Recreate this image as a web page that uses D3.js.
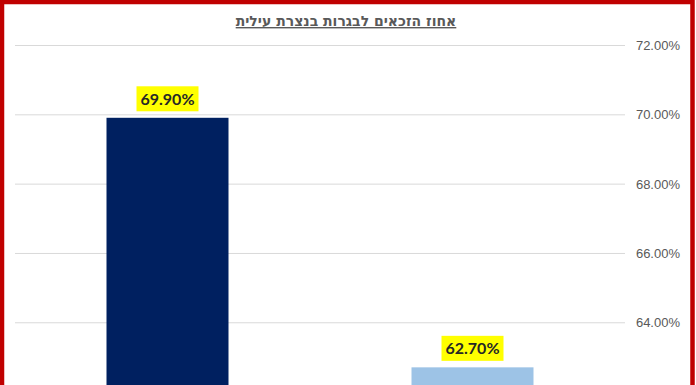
<!DOCTYPE html>
<html>
<head>
<meta charset="utf-8">
<script src="https://cdn.jsdelivr.net/npm/d3@7"></script>
<style>
  body { margin: 0; background: #fff; }
  svg { display: block; }
</style>
</head>
<body>
<svg width="696" height="385"></svg>
<script>
// chart data
var categories = ["2016", "2017"];
var values = [69.9, 62.7];
var barColors = ["#002060", "#9dc3e6"];
var yTicks = [64, 66, 68, 70, 72];
var title = "אחוז הזכאים לבגרות בנצרת עילית";

var svg = d3.select("svg");

xScale = d3.scaleBand()
  .domain(categories)
  .range([15, 625])
  .paddingInner(0.6)
  .paddingOuter(0.3);

yScale = d3.scaleLinear()
  .domain([62, 72])
  .range([391.6, 45]);

// gridlines + labels on the right
yAxis = d3.axisRight(yScale)
  .tickValues(yTicks)
  .tickSize(610)
  .tickFormat(function (d) { return d3.format(".2f")(d) + "%" });

svg.append("g")
  .attr("id", "yAxisG")
  .attr("transform", "translate(15,0)")
  .call(yAxis)
  .call(function (g) {
    g.select(".domain").remove();
    g.selectAll("line").attr("stroke", "#d9d9d9").attr("stroke-width", 1);
    g.selectAll("text")
      .attr("x", 665)
      .attr("dy", "0.35em")
      .attr("text-anchor", "end")
      .attr("fill", "#595959")
      .style("font-family", "'Liberation Sans', Arial, sans-serif")
      .style("font-size", "13px");
  });

// bars
svg.selectAll("rect.bar")
  .data(values)
  .enter()
  .append("rect")
  .attr("class", "bar")
  .attr("x", function (d, i) { return xScale(categories[i]) })
  .attr("width", xScale.bandwidth())
  .attr("y", function (d) { return yScale(d) })
  .attr("height", function (d) { return yScale(62) - yScale(d) })
  .attr("fill", function (d, i) { return barColors[i] });

// data labels with yellow box
var labels = svg.selectAll("g.lbl")
  .data(values)
  .enter()
  .append("g")
  .attr("class", "lbl")
  .attr("transform", function (d, i) {
    return "translate(" + (xScale(categories[i]) + xScale.bandwidth() / 2) + "," + (yScale(d) - 19) + ")";
  });

labels.append("rect")
  .attr("x", -31)
  .attr("y", -12.5)
  .attr("width", 62)
  .attr("height", 25)
  .attr("fill", "#ffff00");

labels.append("text")
  .attr("text-anchor", "middle")
  .attr("dy", "0.36em")
  .attr("fill", "#262626")
  .style("font-family", "Lato, 'Open Sans', sans-serif")
  .style("font-weight", "bold")
  .style("font-size", "16px")
  .text(function (d) { return d3.format(".2f")(d) + "%" });

// title
svg.append("text")
  .attr("x", 346)
  .attr("y", 26)
  .attr("text-anchor", "middle")
  .attr("direction", "rtl")
  .attr("fill", "#595959")
  .style("font-family", "'DejaVu Sans', 'Liberation Sans', sans-serif")
  .style("font-weight", "bold")
  .style("font-size", "14px")
  .style("text-decoration", "underline")
  .text(title);

// red frame
svg.append("rect")
  .attr("x", 2)
  .attr("y", 2)
  .attr("width", 690.5)
  .attr("height", 400)
  .attr("fill", "none")
  .attr("stroke", "#c00000")
  .attr("stroke-width", 4.5);
</script>
</body>
</html>
